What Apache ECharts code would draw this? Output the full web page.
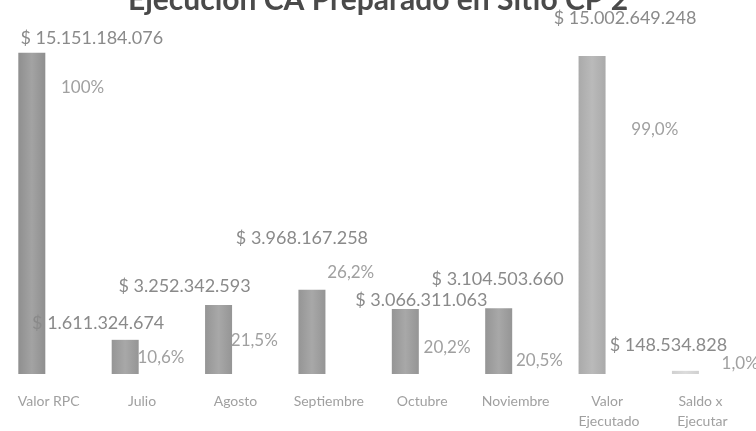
<!DOCTYPE html>
<html><head><meta charset="utf-8">
<script src="https://cdn.jsdelivr.net/npm/echarts@6/dist/echarts.min.js"></script>
<style>html,body{margin:0;padding:0;background:#fff}#c{width:756px;height:431px}</style>
</head><body><div id="c"></div>
<script>
// ---- data ----
const titleText = 'Ejecución CA Preparado en Sitio CP 2';
const categories = ['Valor RPC', 'Julio', 'Agosto', 'Septiembre', 'Octubre', 'Noviembre', 'Valor Ejecutado', 'Saldo x Ejecutar'];
const values = [15151184076, 1611324674, 3252342593, 3968167258, 3066311063, 3104503660, 15002649248, 148534828];
const pctLabels = ['100%', '10,6%', '21,5%', '26,2%', '20,2%', '20,5%', '99,0%', '1,0%'];

// ---- layout / style (label nudges as in the original, bar shades) ----
const valueLabelOffsets = [[60, -5], [-27, -7], [-34, -9], [-10, -42], [16, 1], [-1, -19], [33, -28], [-17, -16]];
const pctLabelOffsets = [[17, 45], [2, 28], [2, 45], [5, -7], [8, 49], [7, 62], [29, 84], [21, 3]];
const barShades = [['#8f8f8f', '#a3a3a3'], ['#959595', '#a8a8a8'], ['#959595', '#a8a8a8'], ['#959595', '#a8a8a8'],
  ['#959595', '#a8a8a8'], ['#959595', '#a8a8a8'], ['#aaaaaa', '#bababa'], ['#d0d0d0', '#dcdcdc']];

function money(v) {
  return '$ ' + String(v).replace(/\B(?=(\d{3})+(?!\d))/g, '.');
}
function grad(c) {
  return new echarts.graphic.LinearGradient(0, 0, 1, 0, [
    { offset: 0, color: c[0] }, { offset: 0.5, color: c[1] }, { offset: 1, color: c[0] }
  ]);
}

const mainData = values.map((v, i) => ({
  value: v,
  itemStyle: { color: grad(barShades[i]) },
  label: { offset: valueLabelOffsets[i] }
}));
const pctData = values.map((v, i) => ({
  value: v,
  label: { offset: pctLabelOffsets[i], formatter: pctLabels[i] }
}));

const chart = echarts.init(document.getElementById('c'), null, { renderer: 'canvas' });
chart.setOption({
  animation: false,
  backgroundColor: '#ffffff',
  textStyle: { fontFamily: 'Lato' },
  title: {
    text: titleText,
    left: 'center', top: -20,
    textStyle: { fontFamily: 'Lato', fontSize: 30, fontWeight: 'bold', color: '#4a4a4a' }
  },
  grid: { left: 2, right: 7, top: 51.7, bottom: 54, containLabel: false },
  xAxis: {
    type: 'category',
    data: categories,
    axisLine: { show: false },
    axisTick: { show: false },
    axisLabel: {
      interval: 0, margin: 17, color: '#a0a0a0', fontFamily: 'Lato', fontSize: 14,
      width: 80, overflow: 'break', lineHeight: 20
    }
  },
  yAxis: {
    type: 'value', min: 0, max: 15200000000, show: false,
    splitLine: { show: false }
  },
  series: [
    {
      type: 'bar', data: mainData, barWidth: 27, barGap: '25%',
      label: {
        show: true, position: 'top', distance: 0, lineHeight: 20,
        fontFamily: 'Lato', fontSize: 18, color: '#8a8a8a',
        formatter: p => money(p.value)
      }
    },
    {
      type: 'bar', data: pctData, barWidth: 27, barGap: '25%',
      itemStyle: { color: 'rgba(0,0,0,0)' },
      label: {
        show: true, position: 'top', distance: 0, lineHeight: 20,
        fontFamily: 'Lato', fontSize: 17, color: '#a0a0a0'
      }
    }
  ]
});
</script>
</body></html>
